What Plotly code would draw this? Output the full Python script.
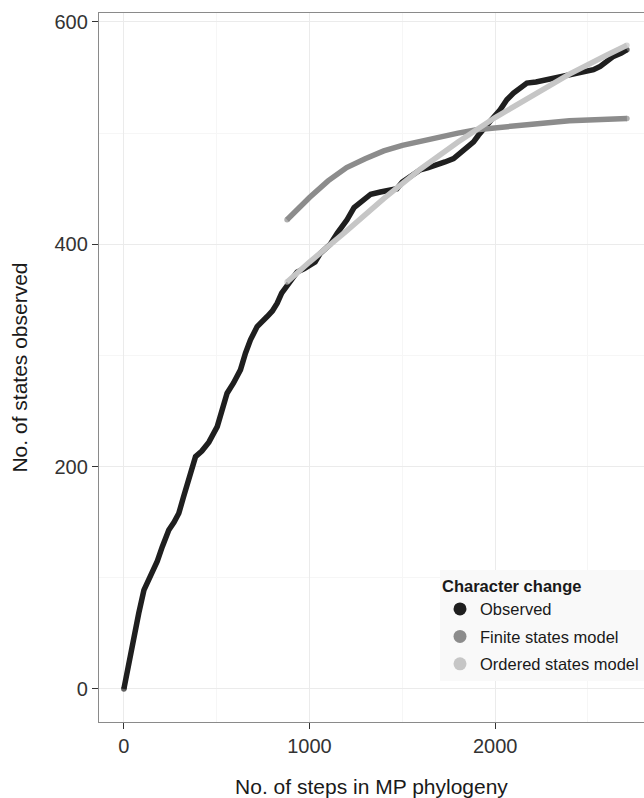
import plotly.graph_objects as go

# Observed accumulation curve
obs_x = [0, 25, 54, 80, 108, 130, 153, 180, 207, 242, 270, 296, 320, 350, 386, 420, 458, 503, 530, 556,
         590, 628, 655, 682, 718, 745, 772, 800, 826, 850, 879, 905, 933, 970, 1005, 1030, 1059, 1090, 1112,
         1150, 1202, 1240, 1292, 1330, 1382, 1430, 1471, 1500, 1525, 1560, 1597, 1640, 1687, 1730, 1776, 1812,
         1848, 1884, 1910, 1938, 1980, 2027, 2063, 2099, 2135, 2171, 2220, 2279, 2330, 2386, 2440, 2494, 2530,
         2566, 2600, 2637, 2680, 2710]
obs_y = [0, 23, 47, 68, 89, 97, 104, 115, 128, 143, 150, 158, 172, 188, 209, 214, 222, 236, 252, 266,
         275, 287, 302, 314, 326, 330, 335, 340, 347, 356, 362, 369, 375, 378, 381, 384, 392, 396, 400,
         410, 422, 433, 440, 445, 447, 448, 450, 456, 459, 463, 467, 469, 471, 474, 477, 482,
         486, 492, 498, 503, 512, 521, 530, 536, 541, 545, 546, 548, 550, 552, 553, 555, 557,
         560, 564, 569, 572, 575]

# Finite states model
fin_x = [879, 950, 1000, 1100, 1200, 1300, 1400, 1500, 1600, 1700, 1800, 1900, 2000, 2200, 2400, 2710]
fin_y = [422, 434, 442, 457, 469, 477, 484, 489, 493, 497, 500, 503, 505, 508, 511, 513]

# Ordered states model
ord_x = [879, 1000, 1200, 1400, 1600, 1800, 2000, 2200, 2400, 2600, 2710]
ord_y = [366, 384, 412, 441, 468, 492, 514, 534, 553, 570, 579]

names = ["Observed", "Finite states model", "Ordered states model"]
colors = ["#1f1f1f", "#8c8c8c", "#c6c6c6"]

FONT = "Liberation Sans, Arial, Helvetica, sans-serif"

fig = go.Figure()

def endcaps(n, s):
    return [s] + [0] * (n - 2) + [s]

series = [(obs_x, obs_y), (fin_x, fin_y), (ord_x, ord_y)]
for (xs, ys), nm, col in zip(series, names, colors):
    fig.add_trace(go.Scatter(
        x=xs, y=ys, mode="lines+markers", showlegend=False,
        line=dict(color=col, width=5.5),
        marker=dict(color=col, size=endcaps(len(xs), 5.5), line=dict(width=0)),
        hoverinfo="skip"))

for i, (nm, col) in enumerate(zip(names, colors)):
    fig.add_trace(go.Scatter(
        x=[None], y=[None], mode="markers", name=nm, legendgroup="g%d" % i,
        marker=dict(color=col, size=13)))

fig.update_layout(
    width=644, height=798,
    margin=dict(l=99, r=0, t=13, b=76),
    paper_bgcolor="white", plot_bgcolor="white",
    font=dict(family=FONT, color="#1a1a1a"),
    legend=dict(
        title=dict(text="<b>Character change</b>", font=dict(size=16.5, color="#1a1a1a")),
        font=dict(size=16.5, color="#1a1a1a"),
        x=0.626, y=0.214, xanchor="left", yanchor="top",
        bgcolor="#f9f9f9", borderwidth=0, itemsizing="trace",
        tracegroupgap=3,
    ),
)

fig.update_xaxes(
    range=[-134, 2802], tickvals=[0, 1000, 2000], ticktext=["0", "1000", "2000"],
    showgrid=True, gridcolor="#ebebeb", gridwidth=1,
    minor=dict(tickvals=[500, 1500, 2500], showgrid=True, gridcolor="#f6f6f6", gridwidth=1, ticks=""),
    zeroline=False,
    showline=True, linecolor="#8a8a8a", linewidth=1.3, mirror=True,
    ticks="outside", ticklen=6, tickcolor="#333333", tickwidth=1.2,
    tickfont=dict(size=20, color="#333333", family=FONT),
    title=dict(text="No. of steps in MP phylogeny", font=dict(size=21, color="#1a1a1a", family=FONT), standoff=24),
)
fig.update_yaxes(
    range=[-29.7, 608], tickvals=[0, 200, 400, 600], ticktext=["0", "200", "400", "600"],
    showgrid=True, gridcolor="#ebebeb", gridwidth=1,
    minor=dict(tickvals=[100, 300, 500], showgrid=True, gridcolor="#f6f6f6", gridwidth=1, ticks=""),
    zeroline=False,
    showline=True, linecolor="#8a8a8a", linewidth=1.3, mirror=False,
    ticks="outside", ticklen=6, tickcolor="#333333", tickwidth=1.2,
    tickfont=dict(size=20, color="#333333", family=FONT),
    title=dict(text="No. of states observed", font=dict(size=21, color="#1a1a1a", family=FONT), standoff=21),
)

fig.write_html(
    "out.html",
    config={"displayModeBar": False},
    post_script="document.body.style.margin='0';document.body.style.overflow='hidden';"
                "document.documentElement.style.overflow='hidden';",
)
